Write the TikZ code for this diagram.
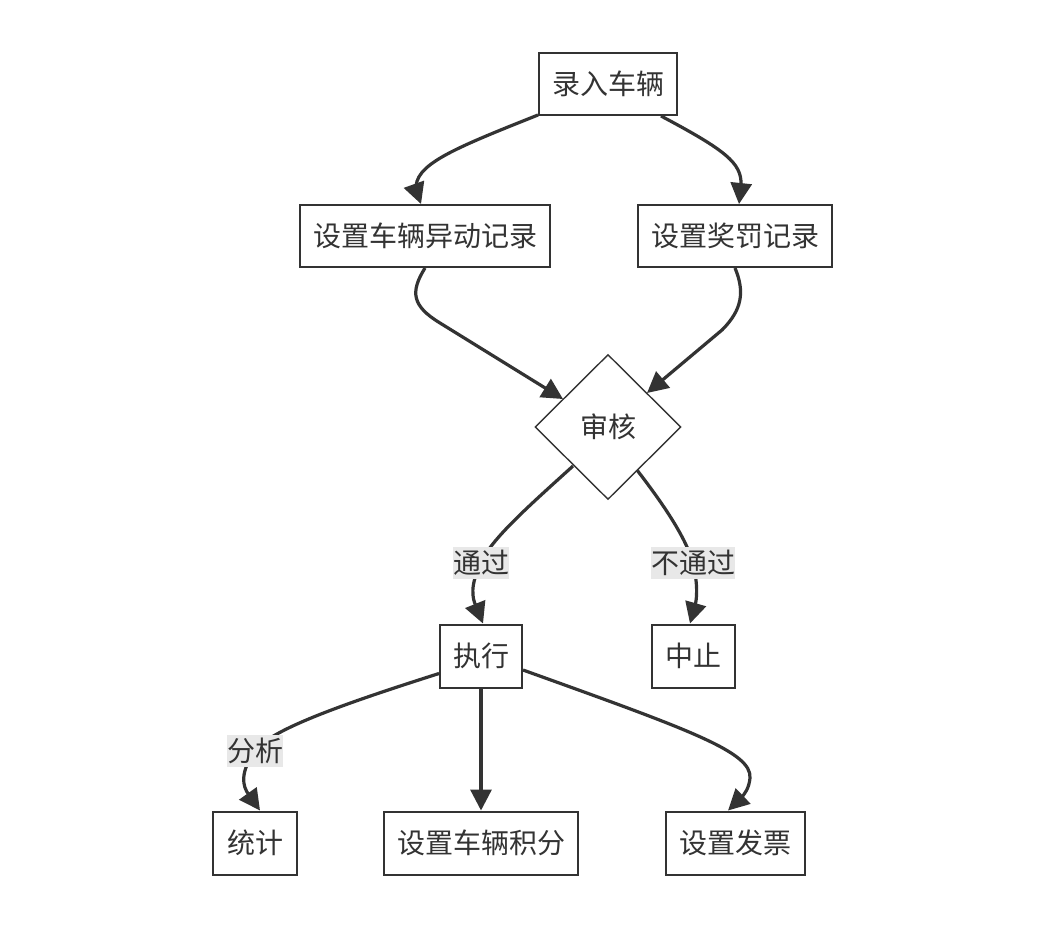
\documentclass[tikz,border=0pt]{standalone}
\usepackage{fontspec}
\setmainfont{Noto Sans CJK SC}
\usetikzlibrary{shapes.geometric,arrows.meta,calc}
\definecolor{ink}{HTML}{333333}
\definecolor{lblbg}{HTML}{E8E8E8}
\tikzset{
  box/.style={draw=ink, line width=2pt, fill=white, inner sep=0pt, text=ink, font=\fontsize{28}{32}\selectfont, minimum height=62pt},
  dia/.style={draw=ink, line width=1.4pt, fill=white, shape=diamond, inner sep=0pt, text=ink, font=\fontsize{28}{32}\selectfont, minimum width=146pt, minimum height=145pt},
  edge/.style={draw=ink, line width=3.2pt, -{Triangle[length=21pt,width=21pt]}},
  plain/.style={draw=ink, line width=3.2pt},
  lbl/.style={fill=lblbg, inner xsep=0pt, inner ysep=0pt, minimum height=32pt, text=ink, font=\fontsize{28}{32}\selectfont}
}
\begin{document}
\begin{tikzpicture}[x=1pt,y=-1pt]
\useasboundingbox[fill=white] (0,0) rectangle (1046,932);
% nodes
\node[box, minimum width=138pt] (a) at (608,84) {录入车辆};
\node[box, minimum width=250pt] (b) at (425,236) {设置车辆异动记录};
\node[box, minimum width=194pt] (c) at (735,236) {设置奖罚记录};
\node[dia] (d) at (608,427) {审核};
\node[box, minimum width=82pt, minimum height=63pt] (e) at (481,656) {执行};
\node[box, minimum width=83pt, minimum height=63pt] (f) at (693,656) {中止};
\node[box, minimum width=84pt, minimum height=63pt] (g) at (255,843) {统计};
\node[box, minimum width=194pt, minimum height=63pt] (h) at (481,843) {设置车辆积分};
\node[box, minimum width=139pt, minimum height=63pt] (i) at (735,843) {设置发票};
% label positions
\coordinate (c1) at (481,563);
\coordinate (c2) at (693,563);
\coordinate (c3) at (255,751);
% edges
\draw[edge] ($(a.south west)+(0,-1)$) .. controls (450,150) and (414,165) .. (416,190) -- ($(b.north)+(-4,0)$);
\draw[edge] ($(a.south)+(53,0)$) .. controls (725,150) and (742,163) .. (741,185) -- ($(c.north)+(4,0)$);
\draw[edge] ($(b.south)+(0,0)$) .. controls (410,292) and (412,306) .. (440,323) -- (563,399);
\draw[edge] ($(c.south)+(0,0)$) .. controls (745,292) and (742,310) .. (722,330) -- (647,393);
\draw[plain] (573,466) .. controls (530,505) and (490,540) .. (c1);
\draw[edge] (c1) .. controls (470,585) and (472,598) .. (476,606) -- ($(e.north)+(2,0)$);
\draw[plain] (637,470) .. controls (660,500) and (685,535) .. (c2);
\draw[edge] (c2) .. controls (698,585) and (697,598) .. (695,606) -- ($(f.north)+(-3,0)$);
\draw[plain] ($(e.south west)+(0,-15)$) .. controls (340,705) and (270,730) .. (c3);
\draw[edge] (c3) .. controls (240,772) and (242,786) .. (249,795) -- ($(g.north)+(5,0)$);
\draw[edge] (e.south) -- (h.north);
\draw[edge] ($(e.east)+(0,14)$) .. controls (690,730) and (752,752) .. (750,778) .. controls (749,788) and (745,794) .. (740,799) -- ($(i.north)+(-7,0)$);
% labels
\node[lbl] (l1) at (c1) {通过};
\node[lbl] (l2) at (c2) {不通过};
\node[lbl] (l3) at (c3) {分析};
\end{tikzpicture}
\end{document}
